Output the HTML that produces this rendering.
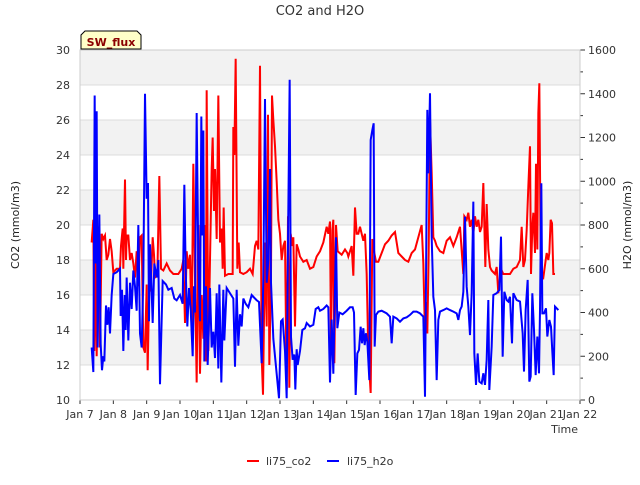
<!DOCTYPE html>
<html><head><meta charset="utf-8"><style>
body{margin:0;background:#fff;font-family:"Liberation Sans","DejaVu Sans",sans-serif}
</style></head><body>
<svg id="chart" width="640" height="480" xmlns="http://www.w3.org/2000/svg" font-family="DejaVu Sans, Liberation Sans, sans-serif">
<g id="bands"></g><g id="grid"></g>
<g id="series"></g>
<g id="axes"></g>
<text x="320" y="15" text-anchor="middle" font-size="13" fill="#333">CO2 and H2O</text>
<text transform="translate(19,225) rotate(-90)" text-anchor="middle" font-size="11" fill="#222">CO2 (mmol/m3)</text>
<text transform="translate(631,225) rotate(-90)" text-anchor="middle" font-size="11" fill="#222">H2O (mmol/m3)</text>
<text x="578" y="433" text-anchor="end" font-size="11" fill="#333">Time</text>
<g>
<path d="M81,49 L81,35 L85,31 L137,31 L141,35 L141,49 Z" fill="#ffffc8" stroke="#000" stroke-width="1"/>
<text x="111" y="46" text-anchor="middle" font-size="11" font-weight="bold" fill="#8b0000">SW_flux</text>
</g>
<g>
<g><line x1="247" y1="461" x2="259" y2="461" stroke="#f00" stroke-width="2"/><text x="266" y="465" font-size="11" fill="#333">li75_co2</text></g>
<g><line x1="327" y1="461" x2="339" y2="461" stroke="#00f" stroke-width="2"/><text x="347" y="465" font-size="11" fill="#333">li75_h2o</text></g>
</g>
</svg>
<script>
const xTickLabels=["Jan 7","Jan 8","Jan 9","Jan 10","Jan 11","Jan 12","Jan 13","Jan 14","Jan 15","Jan 16","Jan 17","Jan 18","Jan 19","Jan 20","Jan 21","Jan 22"];
const leftTicks=[10,12,14,16,18,20,22,24,26,28,30];
const rightTicks=[0,200,400,600,800,1000,1200,1400,1600];
const co2Days=[0.35,0.4,0.43,0.48,0.5,0.56,0.6,0.65,0.7,0.75,0.8,0.85,0.9,0.95,1.0,1.1,1.2,1.23,1.28,1.3,1.35,1.38,1.4,1.45,1.5,1.55,1.6,1.65,1.7,1.75,1.8,1.85,1.9,1.95,2.0,2.03,2.08,2.12,2.18,2.22,2.25,2.32,2.38,2.43,2.5,2.6,2.7,2.8,2.95,3.05,3.1,3.15,3.2,3.25,3.3,3.35,3.4,3.45,3.5,3.55,3.6,3.65,3.7,3.75,3.78,3.8,3.85,3.9,3.95,3.98,4.02,4.05,4.1,4.15,4.2,4.25,4.28,4.31,4.35,4.45,4.58,4.6,4.63,4.67,4.72,4.76,4.8,4.9,5.0,5.1,5.18,5.25,5.3,5.35,5.4,5.45,5.49,5.55,5.6,5.64,5.68,5.73,5.76,5.8,5.85,5.9,5.95,6.0,6.05,6.1,6.15,6.2,6.24,6.28,6.32,6.37,6.4,6.45,6.5,6.55,6.6,6.7,6.8,6.9,7.0,7.1,7.2,7.3,7.4,7.45,7.5,7.53,7.57,7.6,7.63,7.68,7.73,7.85,7.95,8.02,8.05,8.15,8.2,8.25,8.3,8.35,8.4,8.5,8.55,8.6,8.65,8.72,8.77,8.83,8.88,8.95,9.05,9.15,9.25,9.35,9.45,9.55,9.65,9.75,9.85,9.95,10.05,10.15,10.25,10.3,10.35,10.38,10.42,10.46,10.5,10.55,10.6,10.65,10.7,10.8,10.9,11.0,11.1,11.2,11.3,11.4,11.5,11.53,11.6,11.65,11.7,11.75,11.8,11.85,11.9,11.95,12.0,12.05,12.1,12.16,12.2,12.25,12.3,12.35,12.45,12.5,12.55,12.6,12.65,12.7,12.8,12.9,13.0,13.1,13.2,13.25,13.3,13.35,13.4,13.45,13.5,13.53,13.57,13.6,13.65,13.68,13.72,13.75,13.78,13.82,13.86,13.9,14.0,14.05,14.08,14.12,14.16,14.2,14.25,14.35];
const co2Values=[19,20.3,12.8,19.4,12.5,19.9,13,19.5,19.2,19.4,18,18.3,19.2,18.5,17.3,17.5,17.5,18.8,19.8,17.5,22.6,18,19.4,19.4,18,18.4,17.8,17,18.5,16.5,19.3,19.4,13,12.7,16.6,11.7,16.8,16.2,19.3,18.3,17,17.1,22.8,17.5,17.4,17.8,17.4,17.2,17.2,17.5,18,14.4,18.5,17.5,18.3,14,23.5,17,11,20,11.5,16,13.5,20,12.2,27.7,12.8,18,23.2,25,20.8,23.2,19.2,27.4,19,19.8,17.5,21,17.1,17.2,17.2,25.6,24,29.5,17.5,19,17.3,17.2,17.3,17.5,17.2,18.8,19.1,18.6,29.1,12.5,10.3,19,14.2,26.3,12,17.2,27.4,26,24.5,22.5,20.3,19.5,18,18.8,19.1,10.6,20.5,10.7,19.5,18.8,19.3,14.2,18.9,18.6,18.2,17.9,18,17.5,17.6,18.2,18.5,19,19.9,19.5,20.2,13,19.7,20.3,12.1,20,18.5,18.3,18.6,18.4,18.2,18.8,17.1,21,19.5,19.5,19.9,19.1,19.5,17.2,12.7,10.4,19.2,18.4,17.9,17.9,18.4,18.9,19.1,19.4,19.6,18.4,18.2,18,17.9,18.4,18.6,19.3,20,17.8,13.7,15.6,13.8,18.4,26,23,19.3,19.1,18.8,18.5,18.4,19.1,19.3,18.8,19.3,19.9,17.2,20.5,20.3,20.7,19.9,20.3,19.5,20.5,19.9,20.3,19.6,19.9,22.4,17.6,21.2,18.6,17.6,17.4,17.2,17.6,16.1,16.9,17.4,17.2,17.2,17.2,17.5,17.6,18,19.9,17.6,18,19.7,22.2,24.5,17.2,19.9,20.7,18.4,23.5,18.6,26.4,28.1,18.4,17.1,17,18.4,18,18.4,20.3,20.1,17.2,17.2];
const h2oDays=[0.35,0.4,0.44,0.47,0.5,0.53,0.58,0.62,0.66,0.7,0.73,0.78,0.82,0.86,0.9,0.95,1.0,1.1,1.2,1.22,1.26,1.3,1.34,1.37,1.4,1.45,1.5,1.55,1.6,1.65,1.7,1.75,1.8,1.85,1.9,1.95,2.0,2.04,2.07,2.1,2.15,2.18,2.23,2.3,2.35,2.4,2.48,2.58,2.65,2.75,2.83,2.9,3.0,3.08,3.13,3.17,3.22,3.27,3.32,3.38,3.42,3.45,3.5,3.55,3.6,3.64,3.67,3.7,3.73,3.78,3.83,3.9,3.95,4.0,4.05,4.1,4.15,4.18,4.24,4.3,4.33,4.4,4.5,4.6,4.65,4.7,4.75,4.8,4.85,4.9,4.97,5.05,5.15,5.3,5.37,5.45,5.5,5.55,5.6,5.65,5.7,5.73,5.8,5.9,5.97,6.03,6.08,6.15,6.2,6.24,6.29,6.33,6.38,6.43,6.46,6.5,6.53,6.6,6.67,6.75,6.8,6.9,7.0,7.07,7.15,7.2,7.3,7.4,7.45,7.5,7.55,7.6,7.65,7.68,7.72,7.78,7.88,8.0,8.1,8.18,8.22,
8.27,8.32,8.37,8.42,8.46,8.5,8.54,8.58,8.62,8.68,8.72,8.77,8.81,8.84,8.88,8.95,9.05,9.2,9.3,9.35,9.4,9.5,9.6,9.7,9.8,9.9,10.0,10.1,10.2,10.3,10.35,10.38,10.42,10.45,10.5,10.55,10.6,10.65,10.7,10.75,10.8,10.9,11.0,11.1,11.2,11.3,11.35,11.4,11.45,11.5,11.55,11.6,11.65,11.7,11.75,11.8,11.83,11.88,11.93,11.98,12.05,12.1,12.15,12.2,12.25,12.28,12.35,12.4,12.5,12.58,12.63,12.68,12.73,12.8,12.85,12.9,12.96,13.0,13.1,13.2,13.28,13.32,13.37,13.43,13.48,13.52,13.57,13.62,13.67,13.72,13.77,13.8,13.84,13.87,13.92,13.98,14.02,14.08,14.13,14.17,14.21,14.25,14.3,14.35];
const h2oValues=[240,128,1392,624,1320,240,848,256,136,200,176,432,344,424,304,480,576,584,600,384,504,224,480,320,560,272,536,416,592,520,408,800,304,240,560,1400,920,992,360,712,496,352,624,560,640,72,544,528,504,512,464,456,480,440,984,600,336,512,416,200,520,400,1312,640,360,1296,752,1232,176,520,160,512,240,312,192,488,144,528,80,504,272,512,488,464,152,504,248,392,336,464,440,424,480,456,448,168,560,1376,536,640,1056,536,280,120,8,360,368,224,8,720,1464,288,184,208,48,232,160,224,320,328,352,336,344,416,424,408,416,432,424,80,368,120,520,744,328,400,392,408,424,424,400,
23,213,229,335,259,328,251,305,267,91,1189,1234,1265,244,389,404,408,396,381,259,381,373,358,373,378,389,404,404,396,381,15,549,1326,1036,1402,747,472,411,91,366,404,411,419,411,404,396,366,411,427,495,838,518,427,297,488,907,213,69,213,84,76,122,69,183,457,46,244,480,488,503,747,198,495,457,450,472,259,488,457,450,305,130,411,549,84,107,488,320,114,290,122,411,991,396,396,419,290,366,335,221,114,427,419,411];

const NS="http://www.w3.org/2000/svg";
const L=80,R=580,T=50,B=400;
const xs=d=>L+d*(R-L)/15;
const yL=v=>B-(v-10)*(B-T)/20;
const yR=v=>B-v*(B-T)/1600;
function mk(tag,attrs,parent){const e=document.createElementNS(NS,tag);for(const k in attrs)e.setAttribute(k,attrs[k]);parent.appendChild(e);return e;}
const bands=document.getElementById('bands'),grid=document.getElementById('grid'),axes=document.getElementById('axes'),series=document.getElementById('series');
for(let v=12;v<=28;v+=4){const r=mk('rect',{x:L,y:yL(v+2),width:R-L,height:yL(v)-yL(v+2),fill:'#f2f2f2'},bands);

}
leftTicks.forEach(v=>{const ln=mk('line',{x1:L,x2:R,y1:yL(v),y2:yL(v),stroke:'#dcdcdc','stroke-width':1},grid);


const t=mk('text',{x:L-10,y:yL(v)+4,'text-anchor':'end','font-size':11,fill:'#333'},axes);t.textContent=v;

});
rightTicks.forEach(v=>{mk('line',{x1:R,x2:R+5,y1:yR(v),y2:yR(v),stroke:'#333'},axes);
const t=mk('text',{x:R+8,y:yR(v)+4,'font-size':11,fill:'#333'},axes);t.textContent=v;


if(v<1600)mk('line',{x1:R,x2:R+3,y1:yR(v+100),y2:yR(v+100),stroke:'#333'},axes);});
xTickLabels.forEach((s,i)=>{mk('line',{x1:xs(i),x2:xs(i),y1:B,y2:B+4,stroke:'#333'},axes);
const t=mk('text',{x:xs(i),y:B+18,'text-anchor':'middle','font-size':11,fill:'#333'},axes);t.textContent=s;

});
const fr=mk('rect',{x:L,y:T,width:R-L,height:B-T,fill:'none',stroke:'#ccc'},axes);


const p1=mk('polyline',{points:co2Days.map((d,i)=>xs(d)+','+yL(co2Values[i])).join(' '),fill:'none',stroke:'#f00','stroke-width':2},series);


const p2=mk('polyline',{points:h2oDays.map((d,i)=>xs(d)+','+yR(h2oValues[i])).join(' '),fill:'none',stroke:'#00f','stroke-width':2},series);


</script>
</body></html>
